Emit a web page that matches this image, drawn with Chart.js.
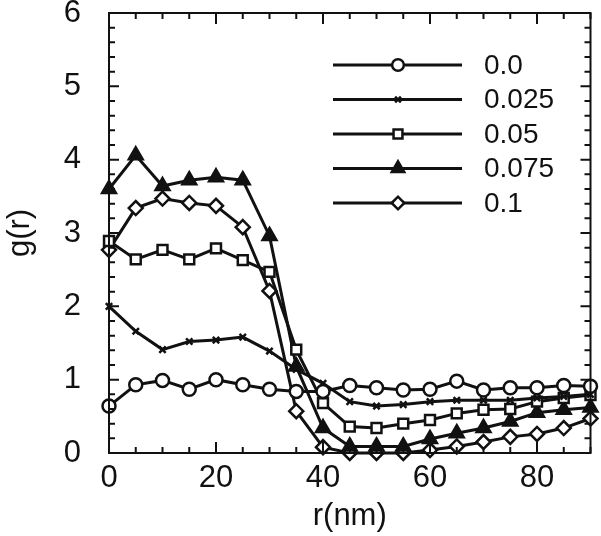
<!DOCTYPE html>
<html>
<head>
<meta charset="utf-8">
<script src="https://cdn.jsdelivr.net/npm/chart.js@4/dist/chart.umd.min.js"></script>
<style>
  body { margin: 0; background: #fff; }
  #wrap { width: 601px; height: 536px; }
</style>
</head>
<body>
<div id="wrap"><canvas id="canvas" width="601" height="536"></canvas></div>
<script>
// r values (nm)
const rValues = [0, 5, 10, 15, 20, 25, 30, 35, 40, 45, 50, 55, 60, 65, 70, 75, 80, 85, 90];

const seriesLabels = ['0.0', '0.025', '0.05', '0.075', '0.1'];

const g000 = [0.64, 0.93, 0.99, 0.87, 1.00, 0.93, 0.87, 0.84, 0.84, 0.92, 0.89, 0.86, 0.87, 0.98, 0.86, 0.89, 0.89, 0.92, 0.91];
const g025 = [2.00, 1.66, 1.41, 1.52, 1.54, 1.58, 1.39, 1.14, 0.95, 0.70, 0.64, 0.66, 0.70, 0.72, 0.72, 0.72, 0.75, 0.77, 0.80];
const g050 = [2.89, 2.64, 2.77, 2.64, 2.79, 2.63, 2.47, 1.41, 0.68, 0.36, 0.34, 0.40, 0.45, 0.54, 0.59, 0.60, 0.70, 0.75, 0.79];
const g075 = [3.60, 4.06, 3.64, 3.72, 3.76, 3.72, 2.96, 1.18, 0.34, 0.09, 0.09, 0.09, 0.19, 0.27, 0.34, 0.43, 0.55, 0.59, 0.62];
const g100 = [2.77, 3.34, 3.47, 3.41, 3.37, 3.08, 2.21, 0.57, 0.08, 0.00, 0.00, 0.00, 0.04, 0.09, 0.15, 0.22, 0.26, 0.34, 0.47];

const xTickLabels = [0, 20, 40, 60, 80];
const yTickLabels = [0, 1, 2, 3, 4, 5, 6];

const allSeries = [g000, g025, g050, g075, g100];
const markers = [
  { style: 'circle', radius: 6.5, fill: '#fff' },
  { style: 'crossRot', radius: 4.5, fill: '#fff' },
  { style: 'rect', radius: 7, fill: '#fff' },
  { style: 'triangle', radius: 8, fill: '#111' },
  { style: 'rectRot', radius: 7, fill: '#fff' },
];

Chart.defaults.font.family = '"Liberation Sans", Arial, Helvetica, sans-serif';
Chart.defaults.color = '#111';

const ink = '#111';

// frame + inward ticks on all four sides
const frameTicks = {
  id: 'frameTicks',
  afterDatasetsDraw(chart) {
    const { ctx, chartArea: a } = chart;
    const xs = chart.scales.x, ys = chart.scales.y;
    ctx.save();
    ctx.strokeStyle = ink;
    ctx.lineWidth = 2;
    ctx.strokeRect(a.left, a.top, a.right - a.left, a.bottom - a.top);
    for (let v = 0; v <= 90; v += 5) {
      const px = xs.getPixelForValue(v);
      const len = v % 20 === 0 ? 11 : 6;
      ctx.beginPath();
      ctx.moveTo(px, a.bottom); ctx.lineTo(px, a.bottom - len);
      ctx.moveTo(px, a.top); ctx.lineTo(px, a.top + len);
      ctx.stroke();
    }
    for (let i = 0; i <= 30; i++) {
      const py = ys.getPixelForValue(i * 0.2);
      const len = i % 5 === 0 ? 10 : 6;
      ctx.beginPath();
      ctx.moveTo(a.left, py); ctx.lineTo(a.left + len, py);
      ctx.moveTo(a.right, py); ctx.lineTo(a.right - len, py);
      ctx.stroke();
    }
    ctx.restore();
  }
};

// legend with line + marker samples
const lineLegend = {
  id: 'lineLegend',
  afterDraw(chart) {
    const { ctx } = chart;
    ctx.save();
    chart.data.datasets.forEach((ds, i) => {
      const y = 65 + i * 34.5;
      ctx.strokeStyle = ink;
      ctx.lineWidth = 3;
      ctx.beginPath();
      ctx.moveTo(333, y); ctx.lineTo(462, y);
      ctx.stroke();
      ctx.fillStyle = ds.pointBackgroundColor;
      ctx.strokeStyle = ink;
      ctx.lineWidth = 2.5;
      Chart.helpers.drawPoint(ctx, { pointStyle: ds.pointStyle, radius: ds.pointRadius * 0.9, rotation: 0, borderWidth: 2.5 }, 398, y);
      ctx.fillStyle = ink;
      ctx.font = '28px "Liberation Sans", Arial, sans-serif';
      ctx.textBaseline = 'middle';
      ctx.textAlign = 'left';
      ctx.fillText(ds.label, 484, y + 1);
    });
    ctx.restore();
  }
};

const datasets = allSeries.map((vals, i) => ({
  label: seriesLabels[i],
  data: vals.map((v, j) => ({ x: rValues[j], y: v })),
  borderColor: ink,
  borderWidth: 3,
  pointStyle: markers[i].style,
  pointRadius: markers[i].radius,
  pointBackgroundColor: markers[i].fill,
  pointBorderColor: ink,
  pointBorderWidth: 2.5,
  tension: 0,
  clip: false,
}));

new Chart(document.getElementById('canvas'), {
  type: 'line',
  data: { datasets: datasets },
  options: {
    responsive: false,
    animation: false,
    layout: { padding: { top: 13, right: 9, left: 0, bottom: 0 } },
    plugins: { legend: { display: false }, tooltip: { enabled: false } },
    scales: {
      x: {
        type: 'linear',
        min: 0,
        max: 90,
        grid: { display: false, drawTicks: false },
        border: { display: false },
        afterBuildTicks: (s) => { s.ticks = xTickLabels.map(v => ({ value: v })); },
        afterFit: (s) => { s.height = 83; s.paddingLeft = 0; s.paddingRight = 0; },
        ticks: { font: { size: 31 }, padding: 7, maxRotation: 0, autoSkip: false, color: ink },
        title: { display: true, text: 'r(nm)', font: { size: 31 }, padding: { top: 0, bottom: 1 }, color: ink },
      },
      y: {
        min: 0,
        max: 6,
        grid: { display: false, drawTicks: false },
        border: { display: false },
        afterBuildTicks: (s) => { s.ticks = yTickLabels.map(v => ({ value: v })); },
        afterFit: (s) => { s.width = 109; s.paddingTop = 0; s.paddingBottom = 0; },
        ticks: { font: { size: 31 }, padding: 28, color: ink },
        title: { display: true, text: 'g(r)', font: { size: 31 }, padding: { top: 2, bottom: 0 }, color: ink },
      },
    },
  },
  plugins: [frameTicks, lineLegend],
});
</script>
</body>
</html>
